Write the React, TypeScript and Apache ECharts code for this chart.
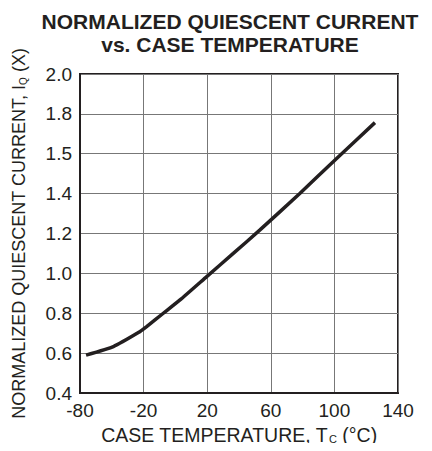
import React, { useEffect, useRef } from "react";
import * as echarts from "echarts";

const xTickLabels = ["-80", "-20", "20", "60", "100", "140"];
const yTickLabels = ["0.4", "0.6", "0.8", "1.0", "1.2", "1.4", "1.5", "1.8", "2.0"];
const temperatures = [-56.2, -39, -23.3, -18.1, -7.6, 2.9, 19.7, 36.4, 53.2, 78.4, 100.4, 125.5];
const currents = [0.59, 0.633, 0.703, 0.733, 0.8, 0.867, 0.984, 1.1, 1.218, 1.402, 1.569, 1.756];
const X_MIN = -60;

export default function App() {
  const ref = useRef<HTMLDivElement>(null);
  useEffect(() => {
    if (!ref.current) return;
    const chart = echarts.init(ref.current, null, { renderer: "svg" });
    const ink = "#231f20";
    const font = "'Liberation Sans', Arial, sans-serif";
    chart.setOption({
      animation: false,
      backgroundColor: "#fff",
      title: {
        text: "NORMALIZED QUIESCENT CURRENT\nvs. CASE TEMPERATURE",
        left: 225,
        top: 5,
        textAlign: "center",
        textStyle: { fontFamily: font, fontWeight: "bold", fontSize: 21, lineHeight: 23, color: ink },
      },
      grid: { left: 80, right: 34, top: 74, bottom: 58, show: true, borderColor: ink, borderWidth: 2, backgroundColor: "transparent" },
      xAxis: {
        type: "value",
        min: 0,
        max: 200,
        interval: 40,
        name: "{n|CASE TEMPERATURE, T}{s|C}{n| (°C)}",
        nameLocation: "middle",
        nameGap: 26,
        nameTextStyle: {
          rich: {
            n: { fontFamily: font, fontSize: 19.5, lineHeight: 20, color: ink, verticalAlign: "top" },
            s: { fontFamily: font, fontSize: 11, lineHeight: 11, color: ink, padding: [9, 0, 0, 1], verticalAlign: "top" },
          },
        },
        axisLine: { show: true, lineStyle: { color: ink, width: 2 } },
        axisTick: { show: false },
        axisLabel: {
          fontFamily: font,
          fontSize: 19,
          color: ink,
          margin: 8,
          formatter: (v: number) => xTickLabels[Math.round(v / 40)] ?? "",
        },
        splitLine: { show: true, lineStyle: { color: "#777", width: 1 } },
      },
      yAxis: {
        type: "value",
        min: 0.4,
        max: 2.0,
        interval: 0.2,
        name: "{n|NORMALIZED QUIESCENT CURRENT, I}{s|Q}{n| (X)}",
        nameLocation: "middle",
        nameGap: 52,
        nameTextStyle: {
          rich: {
            n: { fontFamily: font, fontSize: 18, color: ink },
            s: { fontFamily: font, fontSize: 10, color: ink, padding: [9, 0, 0, 0] },
          },
        },
        axisLine: { show: true, lineStyle: { color: ink, width: 2 } },
        axisTick: { show: false },
        axisLabel: {
          fontFamily: font,
          fontSize: 19,
          color: ink,
          margin: 8,
          formatter: (v: number) => yTickLabels[Math.round((v - 0.4) / 0.2)] ?? "",
        },
        splitLine: { show: true, lineStyle: { color: "#777", width: 1 } },
      },
      series: [
        {
          type: "line",
          smooth: 0.15,
          symbol: "none",
          lineStyle: { color: ink, width: 3.5 },
          data: temperatures.map((t, i) => [t - X_MIN, currents[i]]),
        },
      ],
    });
    return () => chart.dispose();
  }, []);
  return <div ref={ref} style={{ width: 432, height: 451, margin: -8 }} />;
}
